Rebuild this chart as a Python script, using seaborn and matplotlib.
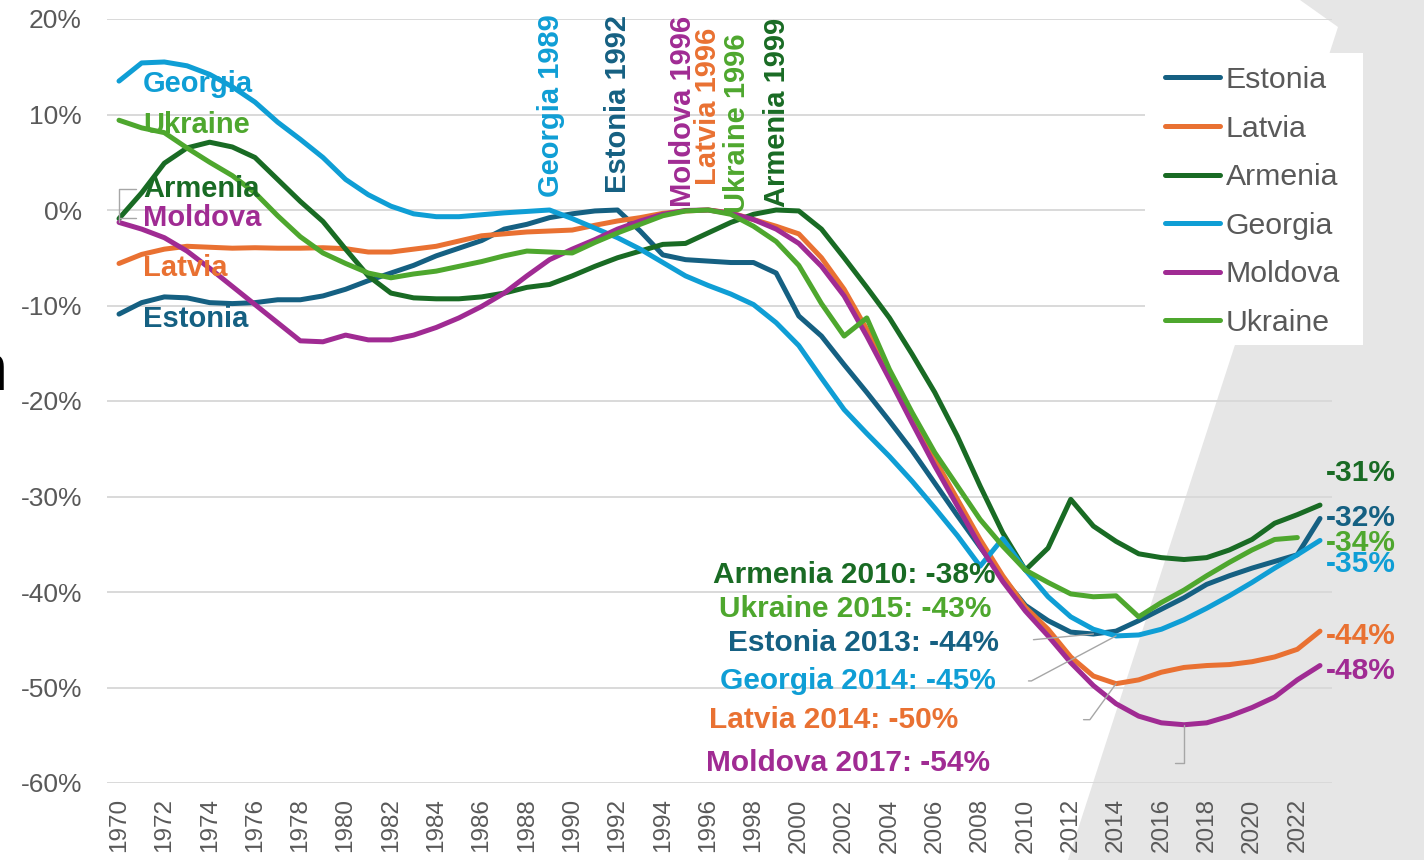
import numpy as np
import pandas as pd
import matplotlib
matplotlib.use("Agg")
import matplotlib.pyplot as plt
import seaborn as sns
from matplotlib.patches import Polygon, Rectangle
from matplotlib.lines import Line2D

# ---------------- data ----------------
years = list(range(1970, 2024))
countries = ["Estonia", "Latvia", "Armenia", "Georgia", "Moldova", "Ukraine"]
colors = ["#156082", "#E97132", "#196B24", "#0F9ED5", "#A02B93", "#4EA72E"]
peak_years = [1992, 1996, 1999, 1989, 1996, 1996]

estonia = [-10.9, -9.7, -9.1, -9.2, -9.7, -9.8, -9.7, -9.4, -9.4, -9.0,
           -8.3, -7.4, -6.6, -5.8, -4.8, -4.0, -3.2, -2.0, -1.5, -0.8,
           -0.4, -0.1, 0.0, -2.2, -4.7, -5.2, -5.35, -5.5, -5.5, -6.6,
           -11.1, -13.2, -16.2, -19.1, -22.1, -25.2, -28.6, -32.0, -35.3, -38.5,
           -41.4, -43.0, -44.2, -44.4, -44.1, -43.0, -41.8, -40.6, -39.2, -38.3,
           -37.5, -36.8, -36.1, -32.3]
latvia = [-5.6, -4.65, -4.1, -3.8, -3.9, -4.0, -3.95, -4.0, -4.0, -3.95,
          -4.05, -4.4, -4.4, -4.1, -3.8, -3.25, -2.7, -2.5, -2.3, -2.2,
          -2.1, -1.6, -1.15, -0.8, -0.35, -0.1, 0.0, -0.3, -1.0, -1.7,
          -2.5, -5.0, -8.3, -12.5, -17.0, -21.6, -26.1, -30.3, -34.5, -38.3,
          -41.6, -43.9, -46.8, -48.8, -49.6, -49.2, -48.4, -47.9, -47.7, -47.6,
          -47.3, -46.8, -46.0, -44.1]
armenia = [-0.9, 1.8, 4.9, 6.5, 7.1, 6.6, 5.5, 3.2, 0.9, -1.2,
           -4.1, -6.9, -8.7, -9.2, -9.3, -9.3, -9.1, -8.7, -8.1, -7.8,
           -6.9, -5.9, -5.0, -4.3, -3.6, -3.5, -2.4, -1.3, -0.45, 0.0,
           -0.1, -2.0, -5.0, -8.1, -11.3, -15.1, -19.1, -23.7, -28.9, -33.8,
           -37.7, -35.4, -30.3, -33.1, -34.7, -36.0, -36.4, -36.6, -36.4, -35.6,
           -34.5, -32.8, -31.9, -30.9]
georgia = [13.5, 15.4, 15.5, 15.1, 14.2, 12.9, 11.3, 9.2, 7.4, 5.5,
           3.2, 1.6, 0.4, -0.4, -0.7, -0.7, -0.5, -0.3, -0.15, 0.0,
           -0.9, -1.9, -2.9, -4.1, -5.5, -6.9, -7.9, -8.8, -9.9, -11.8,
           -14.2, -17.6, -20.9, -23.4, -25.8, -28.4, -31.2, -34.1, -37.3, -34.4,
           -37.7, -40.5, -42.6, -43.9, -44.6, -44.5, -43.9, -42.9, -41.7, -40.4,
           -39.0, -37.5, -36.1, -34.6]
moldova = [-1.3, -2.0, -2.9, -4.3, -6.1, -8.0, -9.9, -11.8, -13.7, -13.8,
           -13.1, -13.6, -13.6, -13.1, -12.3, -11.3, -10.1, -8.7, -6.9, -5.2,
           -4.1, -3.1, -2.0, -1.15, -0.45, -0.05, 0.0, -0.35, -1.0, -2.0,
           -3.5, -5.9, -9.0, -13.2, -17.7, -22.3, -26.8, -31.0, -35.2, -38.9,
           -42.0, -44.6, -47.4, -49.8, -51.7, -53.0, -53.7, -53.9, -53.7, -53.0,
           -52.1, -51.0, -49.2, -47.7]
ukraine = [9.4, 8.6, 8.1, 6.5, 5.0, 3.6, 1.8, -0.6, -2.8, -4.5,
           -5.6, -6.6, -7.1, -6.7, -6.4, -5.9, -5.4, -4.8, -4.3, -4.4,
           -4.5, -3.4, -2.4, -1.5, -0.6, -0.1, 0.0, -0.45, -1.7, -3.3,
           -5.8, -9.8, -13.2, -11.3, -16.7, -21.2, -25.4, -28.9, -32.4, -35.2,
           -37.7, -39.0, -40.2, -40.5, -40.4, -42.6, -41.1, -39.8, -38.3, -36.9,
           -35.6, -34.5, -34.3, np.nan]
series = [estonia, latvia, armenia, georgia, moldova, ukraine]

y_ticks = [-60, -50, -40, -30, -20, -10, 0, 10, 20]
x_ticks = list(range(1970, 2023, 2))

# ---------------- style ----------------
sns.set_style("white")
plt.rcParams["font.family"] = ["Liberation Sans", "DejaVu Sans"]

W, H = 1424, 860
fig = plt.figure(figsize=(W / 100, H / 100), dpi=100)
fig.patch.set_facecolor("white")


def fx(px):
    return px / W


def fy(py):
    return 1 - py / H


# gray background shape (right side)
fig.add_artist(Polygon([(fx(1300), fy(0)), (1, 1), (1, 0), (fx(1068), 0), (fx(1338), fy(27))],
                       closed=True, transform=fig.transFigure, facecolor="#e6e6e6",
                       edgecolor="none", zorder=-5))

ax = fig.add_axes([fx(107), fy(783), (1332 - 107) / W, (783 - 19) / H])
ax.set_facecolor("none")

df = pd.DataFrame({"Year": years, **{c: s for c, s in zip(countries, series)}})
long = df.melt(id_vars="Year", var_name="Country", value_name="Change").dropna()

sns.lineplot(data=long, x="Year", y="Change", hue="Country", hue_order=countries,
             palette=colors, linewidth=3.6, legend=False, ax=ax, estimator=None,
             solid_capstyle="round", solid_joinstyle="round")

ax.set_xlim(1969.47, 2023.53)
ax.set_ylim(-60, 20)
ax.set_yticks(y_ticks)
ax.set_yticklabels([f"{t}%" for t in y_ticks])
ax.set_xticks(x_ticks)
ax.set_xticklabels([str(t) for t in x_ticks], rotation=90)
ax.tick_params(axis="y", length=0, pad=18, labelsize=19, labelcolor="#595959")
ax.tick_params(axis="x", length=0, pad=11, labelsize=17.5, labelcolor="#595959")
ax.set_xlabel("")
ax.set_ylabel("")
for s in ax.spines.values():
    s.set_visible(False)
ax.yaxis.grid(True, color="#d9d9d9", linewidth=1.4)
ax.xaxis.grid(False)
ax.set_axisbelow(True)

# legend with white box
fig.add_artist(Rectangle((fx(1145), fy(345)), (1363 - 1145) / W, (345 - 53) / H,
                         transform=fig.transFigure, facecolor="white", edgecolor="none", zorder=1))
handles = [Line2D([], [], color=c, linewidth=3.6, solid_capstyle="round") for c in colors]
fig.legend(handles, countries, loc="upper left", bbox_to_anchor=(fx(1165), fy(66)),
           bbox_transform=fig.transFigure, frameon=False, fontsize=21.8, labelcolor="#595959",
           handlelength=1.83, handletextpad=0.17, labelspacing=0.68, borderpad=0, borderaxespad=0)

# left labels (start values)
left_dy = {"Georgia": -3, "Ukraine": -5, "Armenia": 30, "Moldova": 4, "Latvia": -5, "Estonia": -5}
for c, s, col in zip(countries, series, colors):
    dy = left_dy[c]
    arrow = None
    if c in ("Armenia", "Moldova"):
        arrow = dict(arrowstyle="-", color="#a6a6a6", lw=1, relpos=(0, 0.5), shrinkA=3, shrinkB=0,
                     connectionstyle="angle,angleA=0,angleB=90,rad=0")
    ax.annotate(c, xy=(years[0], s[0]), xytext=(24, dy), textcoords="offset pixels",
                ha="left", va="center", fontsize=21, fontweight="bold", color=col,
                arrowprops=arrow)

# top vertical peak labels
top_off = {"Georgia": (1, 13), "Estonia": (0, 17), "Moldova": (-25, 3), "Latvia": (0, 25),
           "Ukraine": (29, -3), "Armenia": (1, 3)}
for c, py, col in zip(countries, peak_years, colors):
    dx, dy = top_off[c]
    ax.annotate(f"{c} {py}", xy=(py, 0), xytext=(dx, dy), textcoords="offset pixels",
                rotation=90, ha="center", va="bottom", fontsize=21, fontweight="bold", color=col)

# end labels
end_off = {"Armenia": 32, "Estonia": 0, "Ukraine": -5, "Georgia": -24, "Latvia": -5, "Moldova": -5}
for c, s, col in zip(countries, series, colors):
    arr = np.array(s, dtype=float)
    idx = np.where(~np.isnan(arr))[0][-1]
    ax.annotate(f"{arr[idx]:.0f}%", xy=(years[idx], arr[idx]), xytext=(6 if idx == len(years) - 1 else 29, end_off[c]),
                textcoords="offset pixels", ha="left", va="center", fontsize=21.5,
                fontweight="bold", color=col)

# minimum labels
min_off = {"Armenia": (-30, -5, None), "Ukraine": (-147, 8, None),
           "Estonia": (-95, -9, ("arc3,rad=0", 23)),
           "Georgia": (-120, -45, ("angle,angleA=0,angleB=28,rad=0", 21)),
           "Latvia": (-158, -36, ("angle,angleA=0,angleB=54,rad=0", 88)),
           "Moldova": (-194, -38, ("angle,angleA=0,angleB=90,rad=0", 131))}
for c, s, col in zip(countries, series, colors):
    arr = np.array(s, dtype=float)
    idx = int(np.nanargmin(arr))
    dx, dy, lead = min_off[c]
    arrow = None
    if lead is not None:
        arrow = dict(arrowstyle="-", color="#a6a6a6", lw=1, relpos=(1, 0.5),
                     shrinkA=lead[1], shrinkB=0, connectionstyle=lead[0])
    ax.annotate(f"{c} {years[idx]}: {arr[idx]:.0f}%", xy=(years[idx], arr[idx]), xytext=(dx, dy),
                textcoords="offset pixels", ha="right", va="center", fontsize=21.5,
                fontweight="bold", color=col, arrowprops=arrow)

# cropped fragment of text at the left edge
fig.text(fx(8), fy(390), "n", ha="right", va="baseline", fontsize=48, color="black")

fig.savefig("out.png", dpi=100)
